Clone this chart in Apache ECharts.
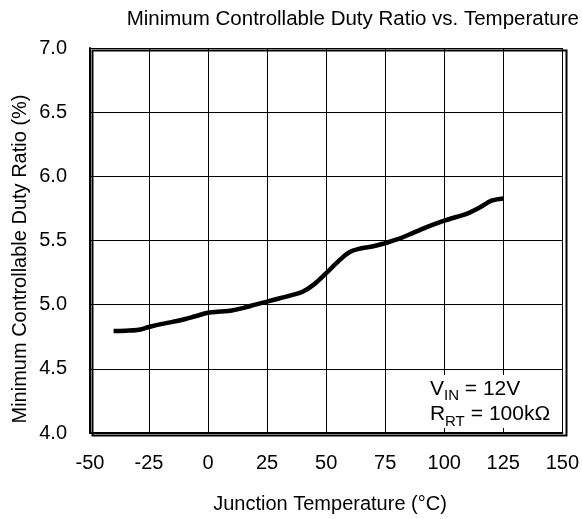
<!DOCTYPE html>
<html><head><meta charset="utf-8">
<script src="https://cdn.jsdelivr.net/npm/echarts@6/dist/echarts.min.js"></script>
<style>html,body{margin:0;padding:0;background:#fff}#c{width:582px;height:519px}</style>
</head><body><div id="c"></div>
<script>
var temps = [-40, -35, -30, -25, -20, -15, -10, -5, 0, 5, 10, 15, 20, 25, 30, 35, 40, 45, 50, 55, 60, 65, 70, 75, 80, 85, 90, 95, 100, 105, 110, 115, 120, 125];
var duty  = [4.795, 4.797, 4.802, 4.826, 4.848, 4.866, 4.886, 4.912, 4.937, 4.946, 4.955, 4.975, 5.000, 5.024, 5.048, 5.072, 5.100, 5.160, 5.245, 5.335, 5.410, 5.440, 5.455, 5.480, 5.508, 5.545, 5.585, 5.622, 5.655, 5.683, 5.712, 5.758, 5.810, 5.828];
var xTicks = [-50, -25, 0, 25, 50, 75, 100, 125, 150];
var yTicks = [4.0, 4.5, 5.0, 5.5, 6.0, 6.5, 7.0];
var titleText = 'Minimum Controllable Duty Ratio vs. Temperature';
var xName = 'Junction Temperature (\u00B0C)';
var yName = 'Minimum Controllable Duty Ratio (%)';

var chart = echarts.init(document.getElementById('c'));
var font = 'Liberation Sans, Arial, sans-serif';
function t(txt, x, y, size, align) {
  return { type: 'text', x: x, y: y, z: 102,
    style: { text: txt, font: size + 'px ' + font, fill: '#000', align: align || 'left', verticalAlign: 'middle' } };
}
chart.setOption({
  animation: false,
  grid: { left: 90, right: 18, top: 48, bottom: 86, show: false },
  xAxis: {
    type: 'value', min: xTicks[0], max: xTicks[xTicks.length-1], interval: 25,
    axisLine: { show: true, onZero: false, lineStyle: { color: '#000', width: 2 } },
    axisTick: { show: false },
    axisLabel: { fontFamily: font, fontSize: 20, color: '#000', margin: 20 },
    splitLine: { show: true, lineStyle: { color: '#000', width: 1 } }
  },
  yAxis: {
    type: 'value', min: yTicks[0], max: yTicks[yTicks.length-1], interval: 0.5,
    axisLine: { show: true, onZero: false, lineStyle: { color: '#000', width: 2 } },
    axisTick: { show: false },
    axisLabel: { fontFamily: font, fontSize: 20, color: '#000', margin: 23,
      formatter: function (v) { return v.toFixed(1); } },
    splitLine: { show: true, lineStyle: { color: '#000', width: 1 } }
  },
  graphic: [
    { type: 'rect', left: 90, top: 48, shape: { width: 474, height: 385 }, silent: true, z: 100,
      style: { fill: 'none', stroke: '#000', lineWidth: 2 } },
    { type: 'rect', shape: { x: 426, y: 375, width: 130, height: 53 }, silent: true, z: 99,
      style: { fill: '#fff' } },
    t(titleText, 579, 19, 20.5, 'right'),
    t(xName, 330, 504, 20, 'center'),
    { type: 'text', x: 20, y: 259, rotation: Math.PI / 2, z: 101,
      style: { text: yName, font: '20px ' + font, fill: '#000', align: 'center', verticalAlign: 'middle' } },
    t('V', 430, 389, 21), t('IN', 444, 396, 15), t(' = 12V', 459, 389, 21),
    t('R', 430, 414.5, 21), t('RT', 445, 422, 15), t(' = 100k\u03A9', 465, 414.5, 21)
  ],
  series: [{
    type: 'line', smooth: 0.4, showSymbol: false,
    data: temps.map(function (t, i) { return [t, duty[i]]; }),
    lineStyle: { color: '#000', width: 4.5 }, z: 5
  }]
});
</script></body></html>
